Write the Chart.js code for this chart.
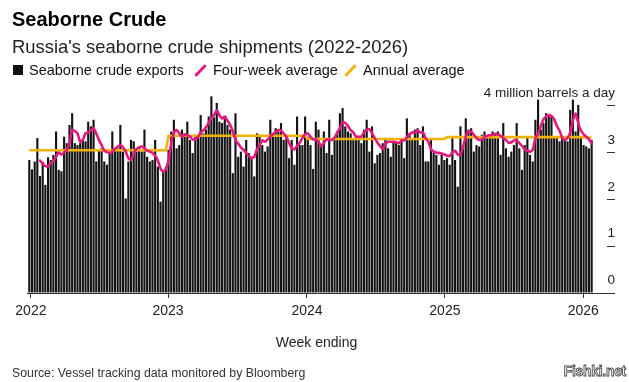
<!DOCTYPE html>
<html><head><meta charset="utf-8">
<script src="https://cdn.jsdelivr.net/npm/chart.js@4.4.1/dist/chart.umd.min.js"></script>
<style>
html,body{margin:0;padding:0;background:#fff;width:629px;height:382px;overflow:hidden;font-family:"Liberation Sans",Arial,sans-serif;}
#wrap{position:relative;width:629px;height:382px;}
canvas{position:absolute;left:0;top:0;}
.t{position:absolute;white-space:nowrap;line-height:1;color:#111;}
#title{left:12px;top:9px;font-size:20px;font-weight:bold;color:#000;}
#sub{left:12px;top:38px;font-size:18.4px;color:#222;}
.lg{top:63px;font-size:14.5px;color:#111;}
#sq{position:absolute;left:13px;top:65px;width:10px;height:10px;background:#111;}
.sl{position:absolute;width:15px;height:3px;border-radius:1px;transform:rotate(-46deg);}
#xt{left:0;width:629px;text-align:center;top:335px;font-size:14px;color:#222;padding-left:2px;}
#src{left:12px;top:367px;font-size:12.3px;color:#333;}
#wm{right:3px;top:364px;font-size:14px;font-weight:bold;color:#f4f4f4;-webkit-text-stroke:0.8px #444;letter-spacing:-0.3px;}
</style></head>
<body><div id="wrap">
<canvas id="c" width="629" height="382"></canvas>
<div class="t" id="title">Seaborne Crude</div>
<div class="t" id="sub">Russia's seaborne crude shipments (2022-2026)</div>
<div id="sq"></div>
<div class="t lg" style="left:29px">Seaborne crude exports</div>
<div class="sl" id="slp" style="left:193px;top:69px;"></div>
<div class="t lg" style="left:213px">Four-week average</div>
<div class="sl" id="sly" style="left:343px;top:69px;"></div>
<div class="t lg" style="left:363px">Annual average</div>
<div class="t" id="xt">Week ending</div>
<div class="t" id="src">Source: Vessel tracking data monitored by Bloomberg</div>
<div class="t" id="wm">Fishki.net</div>
</div>
<script>
// Weekly seaborne crude exports, million barrels a day
const weeklyExports = [
2.84,2.64,2.81,3.31,2.5,2.8,2.31,2.9,2.84,2.95,3.45,2.63,2.6,3.34,3.2,3.59,3.84,3.2,3.16,3.2,3.27,3.24,3.66,3.56,3.7,2.81,3.06,3.09,2.81,2.74,2.99,3.45,3.06,3.09,3.59,
3.02,2.02,2.81,3.27,3.24,3.02,3.13,3.02,3.49,2.91,2.81,2.84,3.27,2.7,1.95,2.59,2.7,3.06,3.45,3.7,3.09,3.16,3.49,3.41,3.66,3.27,2.99,3.38,3.34,3.8,3.41,3.49,3.77,4.2,3.75,
4.06,3.66,3.63,3.73,3.59,3.49,2.56,3.84,2.91,3.02,2.7,3.27,2.99,2.88,2.49,3.41,3.38,3.16,3.02,3.13,3.7,3.41,3.52,3.45,3.63,3.27,3.34,2.88,3.27,2.74,3.77,3.16,3.16,3.77,3.34,
3.16,2.65,3.66,3.49,3.13,3.45,2.99,3.7,2.95,3.27,3.45,3.84,3.95,3.56,3.45,3.41,3.27,3.27,3.27,3.2,3.49,3.7,3.02,3.56,2.77,2.95,2.99,3.2,3.31,3.09,2.91,3.24,3.24,3.16,3.27,
2.88,3.73,3.41,3.31,3.49,3.52,3.16,3.56,2.81,2.81,3.31,2.99,2.95,2.74,2.95,2.84,2.88,2.74,3.31,2.84,2.27,3.56,3.16,3.73,3.49,3.52,3.02,3.16,3.13,3.38,3.45,3.34,3.38,3.45,3.41,
3.45,2.95,3.63,3.09,2.91,3.02,3.16,3.63,3.09,2.63,3.16,3.31,2.95,2.81,3.7,4.13,3.49,3.63,3.84,3.8,3.77,3.34,3.31,3.24,3.31,3.27,3.24,3.91,4.13,3.45,4.02,3.31,3.16,3.13,3.09,3.27
];
// Four-week average
const fourWeekAvg = [
null,null,null,null,2.83,2.76,2.71,2.71,2.77,2.82,2.91,3.0,2.96,3.0,3.06,3.2,3.48,3.46,3.41,3.23,3.27,3.41,3.43,3.47,3.52,3.41,3.27,3.16,3.04,3.01,2.99,3.02,3.08,3.13,3.16,
3.11,3.02,2.88,2.84,2.99,3.07,3.11,3.13,3.09,3.04,3.02,2.99,2.93,2.83,2.66,2.59,2.64,2.84,3.2,3.43,3.48,3.41,3.34,3.38,3.37,3.34,3.28,3.28,3.34,3.43,3.47,3.54,3.64,3.73,3.8,
3.9,3.8,3.73,3.77,3.68,3.59,3.45,3.27,3.19,3.11,3.06,2.99,2.93,2.88,2.91,3.06,3.16,3.26,3.23,3.28,3.34,3.39,3.44,3.48,3.47,3.41,3.34,3.21,3.09,3.07,3.14,3.21,3.31,3.39,3.41,
3.34,3.28,3.28,3.23,3.14,3.2,3.28,3.27,3.27,3.32,3.43,3.52,3.65,3.63,3.57,3.48,3.43,3.34,3.34,3.34,3.43,3.48,3.5,3.41,3.31,3.21,3.14,3.07,3.18,3.23,3.23,3.23,3.22,3.2,3.26,
3.26,3.32,3.39,3.43,3.43,3.47,3.43,3.43,3.31,3.23,3.08,3.02,3.0,2.99,2.98,2.96,2.93,2.93,3.0,3.04,2.96,2.95,3.13,3.34,3.45,3.45,3.38,3.31,3.27,3.28,3.33,3.36,3.37,3.38,3.4,
3.39,3.36,3.31,3.27,3.21,3.22,3.26,3.26,3.2,3.14,3.07,3.04,3.02,3.06,3.31,3.4,3.56,3.71,3.77,3.8,3.78,3.71,3.57,3.47,3.32,3.27,3.31,3.43,3.68,3.83,3.63,3.47,3.39,3.34,3.28,3.2
];
// Annual average per calendar year
const annualAverage = [3.05, 3.36, 3.29, 3.33, 3.32];
// Year tick labels and their position on the week axis
const yearLabels = ['2022','2023','2024','2025','2026'];
const yearTickPos = [0.6, 51.8, 103.7, 155.2, 206.9];
const yTickValues = [0, 1, 2, 3, 4];
const yTickLabels = ['0','1','2','3','4 million barrels a day'];

const BAR = '#141414', PINK = '#e3197f', YELLOW = '#f2b20c', FONT = '"Liberation Sans", Arial, sans-serif';

const barData = weeklyExports.map((v, i) => ({x: i, y: v}));
const pinkData = fourWeekAvg.map((v, i) => ({x: i, y: v}));
const yellowData = weeklyExports.map((_, i) => {
  let k = 0;
  for (let j = 0; j < yearTickPos.length; j++) if (i >= yearTickPos[j]) k = j;
  return {x: i, y: annualAverage[k]};
});

new Chart(document.getElementById('c').getContext('2d'), {
  type: 'bar',
  data: { datasets: [
    { type: 'line', label: 'Four-week average', data: pinkData, borderColor: PINK, borderWidth: 2.6,
      pointRadius: 0, tension: 0.2, borderJoinStyle: 'round', borderCapStyle: 'round', spanGaps: false, order: 1 },
    { type: 'line', label: 'Annual average', data: yellowData, borderColor: YELLOW, borderWidth: 2.6,
      pointRadius: 0, tension: 0, order: 2 },
    { type: 'bar', label: 'Seaborne crude exports', data: barData, backgroundColor: BAR,
      categoryPercentage: 0.8, barPercentage: 1, order: 3 }
  ]},
  options: {
    responsive: false, animation: false, devicePixelRatio: 1,
    layout: { padding: { left: 27, right: 14, top: 87, bottom: 64 } },
    plugins: { legend: { display: false }, tooltip: { enabled: false } },
    scales: {
      x: {
        type: 'linear', min: -0.86, max: 215.74, offset: false,
        grid: { display: true, drawOnChartArea: false, drawTicks: true, tickLength: 5, color: '#333', offset: false },
        border: { display: true, color: '#333', width: 1 },
        afterBuildTicks: s => { s.ticks = yearTickPos.map(v => ({value: v})); },
        afterFit: s => { s.height = 25; },
        ticks: { autoSkip: false, maxRotation: 0, minRotation: 0, padding: 5, color: '#222',
          font: { family: FONT, size: 14 }, callback: (v, i) => yearLabels[i] }
      },
      y: {
        position: 'right', min: 0, max: 4.4,
        afterBuildTicks: s => { s.ticks = yTickValues.map(v => ({value: v})); },
        afterFit: s => { s.width = 8; },
        grid: { drawOnChartArea: false, drawTicks: true, tickLength: 8, color: '#333' },
        border: { display: false },
        ticks: { mirror: true, crossAlign: 'near', padding: 8, labelOffset: -12.5, color: '#222',
          font: { family: FONT, size: 13.5 }, callback: (v, i) => yTickLabels[i] }
      }
    }
  }
});
</script>
<style>#slp{background:#e3197f}#sly{background:#f2b20c}</style>
</body></html>
